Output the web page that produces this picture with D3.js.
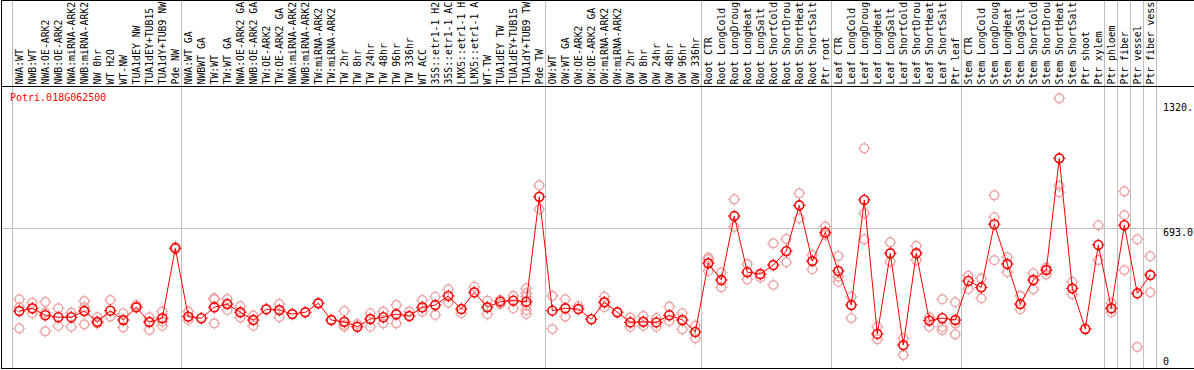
<!DOCTYPE html>
<html><head><meta charset="utf-8">
<script src="https://cdn.jsdelivr.net/npm/d3@7"></script>
<style>
html,body{margin:0;padding:0;background:#fff;overflow:hidden}
svg{display:block}
text{font-family:"DejaVu Sans Mono",monospace;font-size:10px}
</style></head>
<body>
<script>
const title = "Potri.018G062500";
const categories = [
"NWA:WT","NWB:WT","NWA:OE-ARK2","NWB:OE-ARK2","NWA:miRNA-ARK2","NWB:miRNA-ARK2","NW 0hr","WT H2O","WT-NW","TUA1dEY NW","TUA1dEY+TUB15","TUA1dY+TUB9 NW","Pde NW",
"NWA:WT GA","NWBWT GA","TW:WT","TW:WT GA","NWA:OE-ARK2 GA","NWB:OE-ARK2 GA","TW:OE-ARK2","TW:OE-ARK2 GA","NWA:miRNA-ARK2","NWB:miRNA-ARK2","TW:miRNA-ARK2","TW:miRNA-ARK2","TW 2hr","TW 8hr","TW 24hr","TW 48hr","TW 96hr","TW 336hr","WT ACC","35S::etr1-1 H2","35S::etr1-1 AC","LMX5::etr1-1 H","LMX5::etr1-1 A","WT-TW","TUA1dEY TW","TUA1dEY+TUB15","TUA1dY+TUB9 TW","Pde TW",
"OW:WT","OW:WT GA","OW:OE-ARK2","OW:OE-ARK2 GA","OW:miRNA-ARK2","OW:miRNA-ARK2","OW 2hr","OW 8hr","OW 24hr","OW 48hr","OW 96hr","OW 336hr",
"Root CTR","Root LongCold","Root LongDroug","Root LongHeat","Root LongSalt","Root ShortCold","Root ShortDrou","Root ShortHeat","Root ShortSalt","Ptr root",
"Leaf CTR","Leaf LongCold","Leaf LongDroug","Leaf LongHeat","Leaf LongSalt","Leaf ShortCold","Leaf ShortDrou","Leaf ShortHeat","Leaf ShortSalt","Ptr leaf",
"Stem CTR","Stem LongCold","Stem LongDroug","Stem LongHeat","Stem LongSalt","Stem ShortCold","Stem ShortDrou","Stem ShortHeat","Stem ShortSalt","Ptr shoot","Ptr xylem",
"Ptr phloem","Ptr fiber","Ptr vessel","Ptr fiber vess"];
const groupBreaks = [0,13,41,53,63,73,84,85,86,87,88];
const means = [
276,290,255,245,245,276,222,278,231,295,
221,240,591,248,240,295,311,270,231,285,
281,261,270,315,231,222,197,236,245,260,
251,295,306,352,286,370,295,323,328,323,
850,278,290,286,235,320,270,219,222,219,
255,231,171,516,432,753,471,462,507,577,
807,527,671,477,306,834,161,566,105,566,
228,240,231,427,395,712,512,311,432,482,
1043,390,186,608,290,707,365,457];
const replicates = [
[335,295,189],[318,265],[321,268,174],[290,202],[268,197],[326,295,209],[245,214],[331,248],[265,194],[306],
[245,181],[273,222,202],[599],[273,231],[],[340,335,214],[336,281],[301,243],[253,202],[],
[311,245],[],[],[],[],[276,206,197],[211],[265,197],[273,214],[306,214],
[273],[331,273],[348,256],[385,318],[265],[398],[328,260],[331,311],[352,290],[390,365,348,306,281,261],
[907,787],[352,186],[335,248],[301],[],[348,295],[],[243,197],[251,202],[240,197],
[298,226],[265,184],[202,139],[544,536,477],[469,395],[837,700],[512,435],[445],[616,407],[638,521],
[867,742],[557,486],[700,658],[552,449,423],[348,240],[1093,767,636],[197,134],[621,524],[139,55],[603,532],
[245,197],[335,197,181],[320,214,159],[453,387],[440,340],[857,747,531],[546,471],[352,285],[466,385],[494,460],
[1344,905,872],[423,360],[],[707,532],[315,270],[877,757,481],[636,95],[551,370]];
const yTickValues = [0, 693, 1320];
const yTickLabels = ["0", "693.0", "1320."];
const gridValues = [693];

const W = 1194, H = 370;
const svg = d3.select("body").append("svg").attr("width", W).attr("height", H);

const x = d3.scaleBand().domain(d3.range(categories.length)).range([12.8, 1156.8]);
const cx = i => x(i) + x.bandwidth() / 2;
const y = d3.scaleLinear().domain([0, 1320]).range([366, 103.15]);

// grid (horizontal)
svg.selectAll("line.grid").data(gridValues).enter().append("line")
  .attr("x1", 1).attr("x2", W).attr("y1", d => Math.round(y(d)) + 0.5).attr("y2", d => Math.round(y(d)) + 0.5)
  .attr("stroke", "#c0c0c0").attr("stroke-width", 1);

// group separators
const sepX = k => (k >= categories.length ? x.range()[1] : x(k)) - 1;
svg.selectAll("line.sep").data(groupBreaks).enter().append("line")
  .attr("x1", d => Math.round(sepX(d)) + 0.5).attr("x2", d => Math.round(sepX(d)) + 0.5)
  .attr("y1", 0).attr("y2", 369)
  .attr("stroke", "#c0c0c0").attr("stroke-width", 1);

// borders
svg.append("line").attr("x1", 1.5).attr("x2", 1.5).attr("y1", 0).attr("y2", 369).attr("stroke", "#000");
svg.append("line").attr("x1", 1).attr("x2", W).attr("y1", 0.5).attr("y2", 0.5).attr("stroke", "#000");
svg.append("line").attr("x1", 1).attr("x2", W).attr("y1", 86.5).attr("y2", 86.5).attr("stroke", "#000");
svg.append("line").attr("x1", 1).attr("x2", W).attr("y1", 368.5).attr("y2", 368.5).attr("stroke", "#000").attr("stroke-width", 1.2);

// column labels
svg.selectAll("text.cat").data(categories).enter().append("text")
  .attr("transform", (d, i) => `translate(${cx(i) + 3.8},84.5) rotate(-90)`)
  .style("font-size", "9.8px")
  .attr("fill", "#000").text(d => d);

// title
svg.append("text").attr("x", 10).attr("y", 101).attr("fill", "#ff0000").text(title);

// y tick labels
svg.selectAll("text.tick").data(yTickValues).enter().append("text")
  .attr("x", 1163).attr("y", d => d === 0 ? y(d) - 1 : y(d) + 8)
  .attr("fill", "#000").text((d, i) => yTickLabels[i]);

// marker
const tickPath = "M0,-6.3V-4.3M0,4.3V6.3M-6.3,0H-4.3M4.3,0H6.3";
function marker(g, color, sw) {
  g.append("circle").attr("r", 4.4).attr("fill", "none").attr("stroke", color).attr("stroke-width", sw);
  g.append("path").attr("d", tickPath).attr("stroke", color).attr("stroke-width", 1);
}

// replicates
const repPts = [];
replicates.forEach((arr, i) => arr.forEach(v => repPts.push({i, v})));
svg.selectAll("g.rep").data(repPts).enter().append("g")
  .attr("transform", d => `translate(${cx(d.i)},${y(d.v)})`)
  .each(function() { marker(d3.select(this), "#f0a0a0", 1.3); });

// mean line
const line = d3.line().x((d, i) => cx(i)).y(d => y(d));
svg.append("path").datum(means).attr("d", line).attr("fill", "none").attr("stroke", "#ff0000").attr("stroke-width", 1);

// means
svg.selectAll("g.mean").data(means).enter().append("g")
  .attr("transform", (d, i) => `translate(${cx(i)},${y(d)})`)
  .each(function() { marker(d3.select(this), "#ff0000", 1.6); });
</script>
</body></html>
